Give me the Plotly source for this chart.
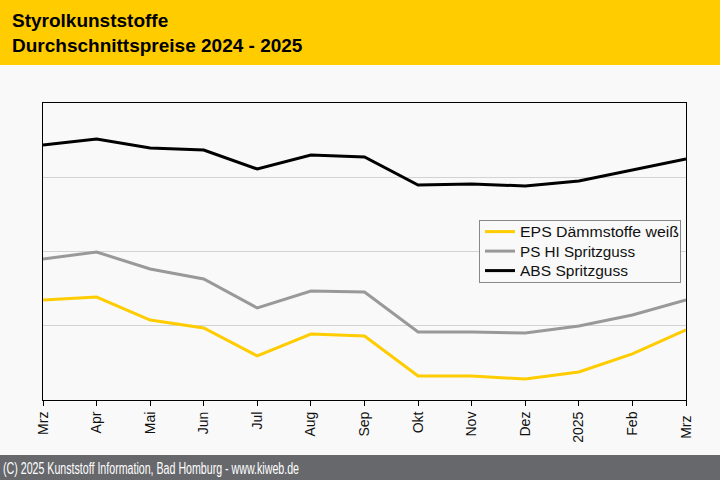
import plotly.graph_objects as go

months = ["Mrz", "Apr", "Mai", "Jun", "Jul", "Aug", "Sep", "Okt", "Nov", "Dez", "2025", "Feb", "Mrz "]
eps = [1.347, 1.387, 1.077, 0.970, 0.593, 0.889, 0.862, 0.323, 0.323, 0.283, 0.377, 0.620, 0.943]
ps_hi = [1.899, 1.993, 1.764, 1.630, 1.239, 1.468, 1.455, 0.916, 0.916, 0.902, 0.997, 1.145, 1.347]
abs_ = [3.434, 3.515, 3.394, 3.367, 3.111, 3.300, 3.273, 2.896, 2.909, 2.882, 2.949, 3.098, 3.246]

series = [
    ("EPS Dämmstoffe weiß", eps, "#ffcc00"),
    ("PS HI Spritzguss", ps_hi, "#999999"),
    ("ABS Spritzguss", abs_, "#000000"),
]

fig = go.Figure()
for name, vals, col in series:
    fig.add_trace(go.Scatter(x=months, y=vals, mode="lines", name=name,
                             line=dict(color=col, width=3)))

W, H = 720, 480
L, R, T, B = 43, 686, 103, 400
def px(q):
    return (q - L) / (R - L)
def py(p):
    return (B - p) / (B - T)

FOOT = "(C) 2025 Kunststoff Information, Bad Homburg - www.kiweb.de"

fig.update_layout(
    width=W, height=H,
    margin=dict(l=L, r=W - R, t=T, b=H - B),
    paper_bgcolor="#f9f9f9", plot_bgcolor="#f9f9f9",
    font=dict(family="Liberation Sans, Arial, sans-serif", color="#222222"),
    showlegend=True,
    legend=dict(x=px(479), y=py(220), xanchor="left", yanchor="top",
                bgcolor="#f9f9f9", bordercolor="#888888", borderwidth=1,
                font=dict(size=14, color="#111111"), tracegroupgap=0,
                itemwidth=30),
    xaxis=dict(type="category", range=[0, 12], showgrid=False,
               tickangle=-90, ticks="outside", ticklen=5, tickcolor="#000",
               tickfont=dict(size=14, color="#111111"),
               showline=True, linecolor="#000", linewidth=1, mirror=True,
               zeroline=False),
    yaxis=dict(range=[0, 4], dtick=1, showticklabels=False, ticks="",
               showgrid=True, gridcolor="#d3d3d3", gridwidth=1,
               showline=True, linecolor="#000", linewidth=1, mirror=True,
               zeroline=False),
    shapes=[
        dict(type="rect", xref="paper", yref="paper",
             x0=px(0), x1=px(W), y0=py(65), y1=py(0),
             fillcolor="#ffcc00", line=dict(width=0), layer="below"),
        dict(type="rect", xref="paper", yref="paper",
             x0=px(0), x1=px(W), y0=py(H), y1=py(455),
             fillcolor="#67686c", line=dict(width=0), layer="below"),
    ],
    annotations=[
        dict(text="<b>Styrolkunststoffe</b>", xref="paper", yref="paper",
             x=px(10), y=py(21), xanchor="left", yanchor="middle",
             showarrow=False, font=dict(size=19, color="#000000")),
        dict(text="<b>Durchschnittspreise 2024 - 2025</b>", xref="paper", yref="paper",
             x=px(10), y=py(45), xanchor="left", yanchor="middle",
             showarrow=False, font=dict(size=19, color="#000000")),
        dict(text=FOOT,
             xref="paper", yref="paper", x=px(3), y=py(468),
             xanchor="left", yanchor="middle", showarrow=False,
             font=dict(size=16, color="#ffffff")),
    ],
)

post = """
document.body.style.margin='0';
document.body.style.padding='0';
function squeeze(){
  document.querySelectorAll('text.annotation-text').forEach(function(t){
    if (t.textContent.indexOf('(C) 2025') === 0 && !t.dataset.sq) {
      t.dataset.sq = '1';
      t.setAttribute('textLength', '296');
      t.setAttribute('lengthAdjust', 'spacingAndGlyphs');
      var r = t.getBoundingClientRect();
      var shift = 3 - r.left;
      var x0 = parseFloat(t.getAttribute('x') || '0');
      t.setAttribute('x', x0 + shift);
    }
  });
  var widths = {'EPS D': 159, 'PS HI': 115, 'ABS S': 108};
  document.querySelectorAll('text.legendtext').forEach(function(t){
    var k = t.textContent.substring(0, 5);
    if (widths[k]) {
      t.setAttribute('textLength', widths[k]);
      t.setAttribute('lengthAdjust', 'spacingAndGlyphs');
    }
  });
  document.querySelectorAll('g.legend [clip-path]').forEach(function(e){
    e.removeAttribute('clip-path');
  });
  document.querySelectorAll('g.legend rect.bg').forEach(function(r){
    r.setAttribute('width', '201');
    r.setAttribute('height', '62');
  });
  var items = document.querySelectorAll('g.legend g.traces');
  if (items.length && !document.body.dataset.lg) {
    document.body.dataset.lg = '1';
    var m0 = /translate\\(\\s*([-\\d.]+)[ ,]+([-\\d.]+)/.exec(items[0].getAttribute('transform') || '');
    if (m0) {
      var y0 = parseFloat(m0[2]);
      items.forEach(function(g, i){
        var m = /translate\\(\\s*([-\\d.]+)[ ,]+([-\\d.]+)/.exec(g.getAttribute('transform') || '');
        if (m) {
          g.setAttribute('transform', 'translate(' + m[1] + ',' + (y0 - 5 + i * 19.5) + ')');
        }
      });
    }
  }
}
squeeze();
setTimeout(squeeze, 50);
"""

fig.write_html("out.html", post_script=post, config={"displayModeBar": False})
